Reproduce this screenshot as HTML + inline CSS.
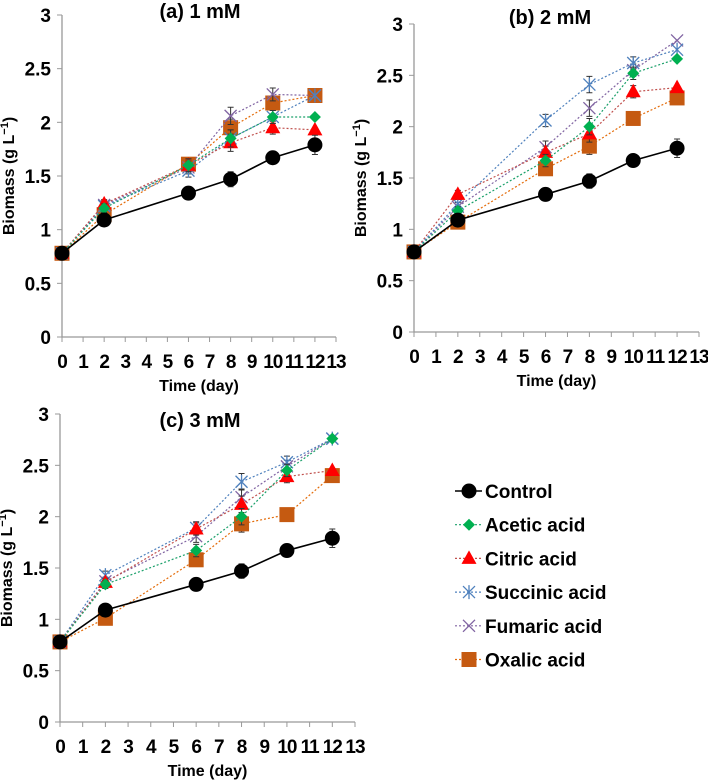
<!DOCTYPE html>
<html><head><meta charset="utf-8"><style>
html,body{margin:0;padding:0;background:#fff;}
svg{display:block;font-family:"Liberation Sans",sans-serif;font-weight:bold;}
</style></head><body>
<svg id="chart" width="708" height="780" viewBox="0 0 708 780" xmlns="http://www.w3.org/2000/svg"></svg>
<script>
const days = [0,2,6,8,10,12];
const seriesNames = ["Control","Acetic acid","Citric acid","Succinic acid","Fumaric acid","Oxalic acid"];
const yTicks = [0,0.5,1,1.5,2,2.5,3];
const yTickLabels = ["0","0.5","1","1.5","2","2.5","3"];
const xTicks = [0,1,2,3,4,5,6,7,8,9,10,11,12,13];
const controlVals = [0.78,1.09,1.34,1.47,1.67,1.79];
const controlErr = [0.02,0.05,0.03,0.07,0.03,0.09];
const a_acetic = [0.78,1.20,1.60,1.85,2.05,2.05];
const a_citric = [0.78,1.24,1.60,1.81,1.95,1.93];
const a_succinic = [0.78,1.22,1.55,1.85,2.05,2.25];
const a_fumaric = [0.78,1.23,1.58,2.06,2.26,2.25];
const a_oxalic = [0.78,1.14,1.61,1.95,2.18,2.25];
const b_acetic = [0.78,1.18,1.67,2.00,2.52,2.66];
const b_citric = [0.78,1.34,1.75,1.93,2.34,2.38];
const b_succinic = [0.78,1.25,2.06,2.41,2.62,2.75];
const b_fumaric = [0.78,1.22,1.80,2.18,2.55,2.84];
const b_oxalic = [0.78,1.07,1.59,1.81,2.08,2.28];
const c_acetic = [0.78,1.34,1.67,2.00,2.45,2.76];
const c_citric = [0.78,1.36,1.88,2.12,2.39,2.45];
const c_succinic = [0.78,1.43,1.89,2.34,2.53,2.76];
const c_fumaric = [0.78,1.37,1.81,2.19,2.49,2.76];
const c_oxalic = [0.78,1.01,1.58,1.93,2.02,2.40];
const errAcid = [0,0.04,0.06,0.08,0.06,0.02];

const NS="http://www.w3.org/2000/svg";
const svg=document.getElementById('chart');
const lineCol=["#000","#1aa06a","#c0504d","#4f81bd","#8064a2","#e46c0a"];
function mk(tag,attrs,parent){const e=document.createElementNS(NS,tag);for(const k in attrs)e.setAttribute(k,attrs[k]);(parent||svg).appendChild(e);return e;}

function marker(g,i,cx,cy){
  let m;
  if(i===0){m=mk('circle',{cx:cx,cy:cy,r:7.5,fill:'#000'},g);}
  else if(i===1){m=mk('polygon',{points:`${cx},${cy-6} ${cx+6},${cy} ${cx},${cy+6} ${cx-6},${cy}`,fill:'#00b050'},g);}
  else if(i===2){m=mk('polygon',{points:`${cx},${cy-8} ${cx+7.5},${cy+5.5} ${cx-7.5},${cy+5.5}`,fill:'#ff0000'},g);}
  else if(i===3){m=mk('path',{d:`M${cx-6} ${cy-6}L${cx+6} ${cy+6}M${cx+6} ${cy-6}L${cx-6} ${cy+6}M${cx} ${cy-7}L${cx} ${cy+7}`,stroke:'#4f81bd','stroke-width':1.3,fill:'none'},g);}
  else if(i===4){m=mk('path',{d:`M${cx-6} ${cy-6}L${cx+6} ${cy+6}M${cx+6} ${cy-6}L${cx-6} ${cy+6}`,stroke:'#8064a2','stroke-width':1.3,fill:'none'},g);}
  else {m=mk('rect',{x:cx-7.5,y:cy-7.5,width:15,height:15,fill:'#c55a11'},g);}
  return m;
}

function panel(p){
  const g=mk('g',{});
  
  
  const X=v=>p.x0+(v/13)*(p.x1-p.x0);
  const Y=v=>p.y0-(v/3)*(p.y0-p.y3);
  const ax=mk('path',{d:`M${p.x0} ${p.y3}L${p.x0} ${p.y0}L${p.x1} ${p.y0}`,stroke:'#999','stroke-width':1.3,fill:'none'},g);
  
  
  yTicks.forEach((t,k)=>{
    mk('line',{x1:p.x0-5,x2:p.x0,y1:Y(t),y2:Y(t),stroke:'#999'},g);
    const tx=mk('text',{x:p.x0-11,y:Y(t)+7,'text-anchor':'end','font-size':19,fill:'#000'},g);
    tx.textContent=yTickLabels[k];
    
    
  });
  xTicks.forEach(t=>{
    mk('line',{x1:X(t),x2:X(t),y1:p.y0,y2:p.y0+5,stroke:'#999'},g);
    const tx=mk('text',{x:X(t),y:p.y0+31,'text-anchor':'middle','font-size':19,fill:'#000','letter-spacing':'-1'},g);
    tx.textContent=String(t);
    
    
  });
  const ti=mk('text',{x:p.tx,y:p.ty,'text-anchor':'middle','font-size':20,fill:'#000'},g);
  ti.textContent=p.title;
  
  
  const xt=mk('text',{x:(p.x0+p.x1)/2,y:p.y0+54,'text-anchor':'middle','font-size':16,fill:'#000'},g);
  xt.textContent='Time (day)';
  
  
  const cy=(p.y0+p.y3)/2;
  const yt=mk('text',{x:p.x0-48,y:cy,'text-anchor':'middle','font-size':16,fill:'#000',transform:`rotate(-90 ${p.x0-48} ${cy})`},g);
  yt.innerHTML='Biomass (g L<tspan dy="-6" font-size="11">−1</tspan><tspan dy="6">)</tspan>';
  
  
  const all=[controlVals].concat(p.data);
  for(let i=all.length-1;i>=0;i--){
    const vals=all[i];
    const pts=days.map((d,k)=>X(d)+','+Y(vals[k])).join(' ');
    const ln=mk('polyline',{points:pts,fill:'none',stroke:lineCol[i],'stroke-width':i===0?1.6:1.2,'stroke-dasharray':i===0?'none':'2,2'},g);
    
    
    const err=i===0?controlErr:errAcid;
    days.forEach((d,k)=>{
      if(err[k]>0.03){
        mk('path',{d:`M${X(d)} ${Y(vals[k]-err[k])}L${X(d)} ${Y(vals[k]+err[k])}M${X(d)-3} ${Y(vals[k]-err[k])}L${X(d)+3} ${Y(vals[k]-err[k])}M${X(d)-3} ${Y(vals[k]+err[k])}L${X(d)+3} ${Y(vals[k]+err[k])}`,stroke:'#333','stroke-width':1,fill:'none'},g);
      }
      const m=marker(g,i,X(d),Y(vals[k]));
      
      
    });
  }
}
panel({id:'a',x0:62,x1:336,y0:337,y3:15,tx:200,ty:18,title:'(a) 1 mM',data:[a_acetic,a_citric,a_succinic,a_fumaric,a_oxalic]});
panel({id:'b',x0:414,x1:699,y0:332,y3:24,tx:550,ty:24,title:'(b) 2 mM',data:[b_acetic,b_citric,b_succinic,b_fumaric,b_oxalic]});
panel({id:'c',x0:60,x1:355,y0:722,y3:414,tx:200,ty:427,title:'(c) 3 mM',data:[c_acetic,c_citric,c_succinic,c_fumaric,c_oxalic]});

const lg=mk('g',{});


seriesNames.forEach((n,i)=>{
  const y=491+i*33.7;
  const e=mk('g',{},lg);
  
  
  mk('line',{x1:455,x2:482,y1:y,y2:y,stroke:lineCol[i],'stroke-width':i===0?1.6:1.2,'stroke-dasharray':i===0?'none':'2,2'},e);
  marker(e,i,469,y);
  const t=mk('text',{x:485,y:y+7,'font-size':19,fill:'#000'},e);
  t.textContent=n;
});
</script>
</body></html>
